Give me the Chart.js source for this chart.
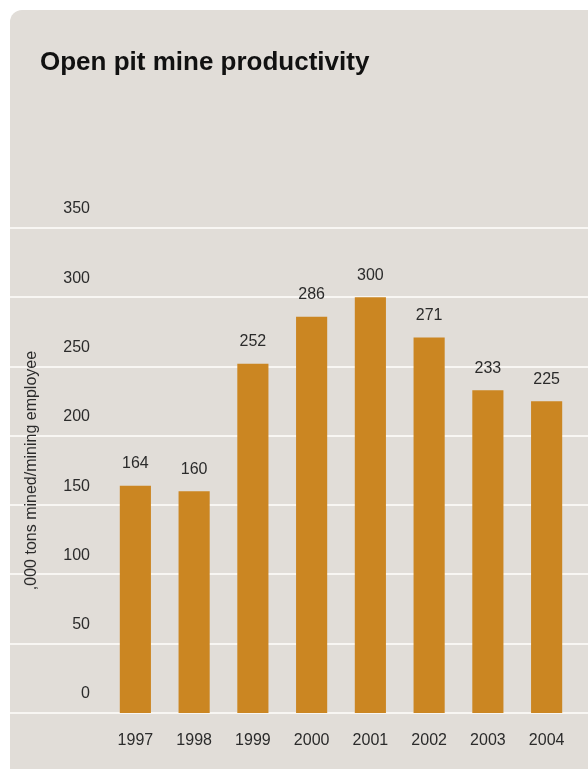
<!DOCTYPE html>
<html>
<head>
<meta charset="utf-8">
<script src="https://cdn.jsdelivr.net/npm/chart.js@4.4.1/dist/chart.umd.min.js"></script>
<style>
    html, body { margin: 0; padding: 0; background: #ffffff; }
    #panel {
        position: absolute;
        left: 10px;
        top: 10px;
        right: 0;
        bottom: 0;
        background: #e1ddd8;
        border-top-left-radius: 12px;
    }
    #chart { position: absolute; left: 0; top: 0; }
</style>
</head>
<body>
<div id="panel"></div>
<canvas id="chart" width="588" height="769"></canvas>
<script>
// Chart data
const chartTitle = "Open pit mine productivity";
const axisTitle  = ",000 tons mined/mining employee";
const years      = ["1997", "1998", "1999", "2000", "2001", "2002", "2003", "2004"];
const tonnes     = [164, 160, 252, 286, 300, 271, 233, 225];
const yTicks     = [0, 50, 100, 150, 200, 250, 300, 350];

const FONT = "'Liberation Sans', Arial, Helvetica, sans-serif";
const TEXT = "#2b2b2b";

/**
 * Draws the title in the top left corner of the panel.
 */
const titlePlugin = {
    id: "panelTitle",
    afterDraw(chart)
    {
        const ctx = chart.ctx;
        ctx.save();
        ctx.font = "bold 26px " + FONT;
        ctx.fillStyle = "#111111";
        ctx.textAlign = "left";
        ctx.textBaseline = "alphabetic";
        ctx.fillText(chartTitle, 40, 70);
        ctx.restore();
    }
};

/**
 * White horizontal rules across the whole panel width, drawn beneath
 * the axis texts and the bars.
 */
const rulesPlugin = {
    id: "panelRules",
    beforeDraw(chart)
    {
        const ctx = chart.ctx;
        const y   = chart.scales.y;
        ctx.save();
        ctx.strokeStyle = "#f8f6f3";
        ctx.lineWidth = 2;
        y.ticks.forEach((tick) => {
            const py = Math.round(y.getPixelForValue(tick.value));
            ctx.beginPath();
            ctx.moveTo(10, py);
            ctx.lineTo(chart.width, py);
            ctx.stroke();
        });
        ctx.restore();
    }
};

/**
 * Value labels above each bar.
 */
const valuePlugin = {
    id: "barValues",
    afterDatasetsDraw(chart)
    {
        const ctx  = chart.ctx;
        const meta = chart.getDatasetMeta(0);
        ctx.save();
        ctx.font = "16px " + FONT;
        ctx.fillStyle = TEXT;
        ctx.textAlign = "center";
        ctx.textBaseline = "middle";
        meta.data.forEach((bar, i) => {
            ctx.fillText(String(tonnes[i]), bar.x, bar.y - 22);
        });
        ctx.restore();
    }
};

new Chart(document.getElementById("chart"), {
    type: "bar",
    data: {
        labels: years,
        datasets: [{
            data: tonnes,
            backgroundColor: "#cb8622",
            borderWidth: 0,
            categoryPercentage: 1.0,
            barPercentage: 0.53
        }]
    },
    options: {
        responsive: false,
        animation: false,
        devicePixelRatio: 1,
        layout: {
            padding: { top: 228, right: 12, bottom: 18, left: 0 }
        },
        plugins: {
            legend: { display: false },
            title: { display: false },
            tooltip: { enabled: false }
        },
        scales: {
            x: {
                afterFit(scale) {
                    scale.height = 38;
                },
                grid: { display: false, drawTicks: false },
                border: { display: false },
                ticks: {
                    color: TEXT,
                    font: { family: FONT, size: 16 },
                    padding: 18,
                    maxRotation: 0
                }
            },
            y: {
                min: 0,
                max: 350,
                afterBuildTicks(scale) {
                    scale.ticks = yTicks.map((v) => ({ value: v }));
                },
                afterFit(scale) {
                    scale.width = 106;
                },
                grid: { display: false, drawTicks: false },
                border: { display: false },
                ticks: {
                    color: TEXT,
                    font: { family: FONT, size: 16 },
                    padding: 16,
                    labelOffset: -19
                },
                title: {
                    display: true,
                    text: axisTitle,
                    color: TEXT,
                    font: { family: FONT, size: 16 },
                    padding: { top: 22, bottom: 0 }
                }
            }
        }
    },
    plugins: [rulesPlugin, valuePlugin, titlePlugin]
});
</script>
</body>
</html>
